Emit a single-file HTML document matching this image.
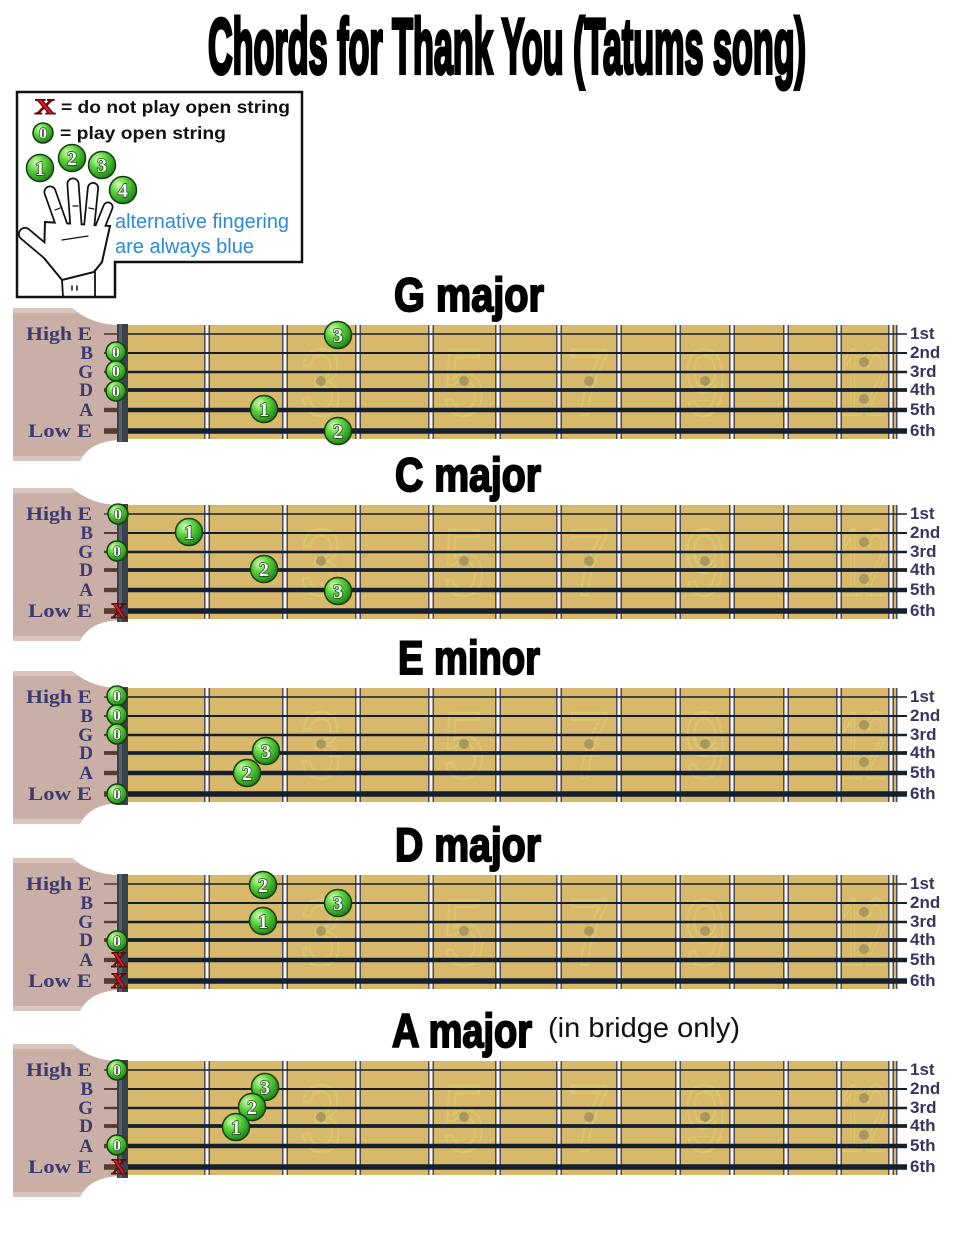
<!DOCTYPE html>
<html><head><meta charset="utf-8">
<style>
html,body{margin:0;padding:0;background:#fff;}
svg{display:block;}
.T{font-family:"Liberation Sans",sans-serif;font-weight:bold;fill:#000;stroke:#000;}
.L{font-family:"Liberation Serif",serif;font-weight:bold;font-size:19px;fill:#3d3a72;}
.R{font-family:"Liberation Sans",sans-serif;font-weight:bold;font-size:17px;fill:#3a3462;}
.nm{font-family:"Liberation Sans",sans-serif;font-size:95px;fill:none;stroke:#dfe56c;stroke-width:2.5;opacity:.3;text-anchor:middle;}
.f{fill:url(#gr);stroke:#163d10;stroke-width:1.5;}
.fn{font-family:"Liberation Serif",serif;font-weight:bold;font-size:20px;fill:#fff;stroke:#173a12;stroke-width:1.4;paint-order:stroke;text-anchor:middle;}
.on{font-family:"Liberation Serif",serif;font-weight:bold;font-size:16px;fill:#fff;stroke:#173a12;stroke-width:1.2;paint-order:stroke;text-anchor:middle;}
.x{font-family:"Liberation Serif",serif;font-weight:bold;font-size:22px;fill:#e01818;stroke:#5a0808;stroke-width:1;text-anchor:middle;}
.lg{font-family:"Liberation Sans",sans-serif;font-weight:bold;font-size:17.5px;fill:#111;}
.bl{font-family:"Liberation Sans",sans-serif;font-size:20px;fill:#2a8ad8;}
</style></head>
<body>
<svg width="960" height="1242" viewBox="0 0 960 1242" xmlns="http://www.w3.org/2000/svg">
<defs>
<radialGradient id="gr" cx="35%" cy="30%" r="70%">
<stop offset="0" stop-color="#d6ffb8"/><stop offset="0.45" stop-color="#5cd23e"/><stop offset="1" stop-color="#23881a"/>
</radialGradient>
<g id="boardA">
<path d="M13,-26 L72,-26 Q92,-9 120,-9 L120,106 Q90,107 80,127 L13,127 Z" fill="#c9afa5"/>
<path d="M13,-26 L72,-26 Q75,-23 77,-21 L13,-21 Z" fill="#dac5bd"/>
<path d="M13,122 L83,122 Q81,124 80,127 L13,127 Z" fill="#dac5bd"/>
<rect x="128" y="-9" width="769" height="114" fill="#d8b96c"/>
</g>
<g id="boardB">
<g fill="#a8975e">
<circle cx="321" cy="47" r="5"/><circle cx="464" cy="47" r="5"/><circle cx="589" cy="47" r="5"/><circle cx="705" cy="47" r="5"/><circle cx="864" cy="28" r="5"/><circle cx="864" cy="65" r="5"/>
</g>
<g fill="#4d4d58">
<rect x="204" y="-9" width="6" height="114"/><rect x="282" y="-9" width="6" height="114"/><rect x="355" y="-9" width="6" height="114"/><rect x="428" y="-9" width="6" height="114"/><rect x="495" y="-9" width="6" height="114"/><rect x="556" y="-9" width="6" height="114"/><rect x="616" y="-9" width="6" height="114"/><rect x="675" y="-9" width="6" height="114"/><rect x="729" y="-9" width="6" height="114"/><rect x="783" y="-9" width="6" height="114"/><rect x="836" y="-9" width="6" height="114"/><rect x="888" y="-9" width="6" height="114"/><rect x="896" y="-9" width="1.5" height="114"/>
</g>
<g fill="#f5f1f1">
<rect x="205.5" y="-9" width="3" height="114"/><rect x="283.5" y="-9" width="3" height="114"/><rect x="356.5" y="-9" width="3" height="114"/><rect x="429.5" y="-9" width="3" height="114"/><rect x="496.5" y="-9" width="3" height="114"/><rect x="557.5" y="-9" width="3" height="114"/><rect x="617.5" y="-9" width="3" height="114"/><rect x="676.5" y="-9" width="3" height="114"/><rect x="730.5" y="-9" width="3" height="114"/><rect x="784.5" y="-9" width="3" height="114"/><rect x="837.5" y="-9" width="3" height="114"/><rect x="889.5" y="-9" width="3" height="114"/>
</g>
<g stroke="#5a3a30">
<line x1="104" x2="118" y1="0" y2="0" stroke-width="1.6"/><line x1="104" x2="118" y1="19" y2="19" stroke-width="2"/><line x1="104" x2="118" y1="38" y2="38" stroke-width="2.4"/><line x1="104" x2="118" y1="56" y2="56" stroke-width="3.8"/><line x1="104" x2="118" y1="76" y2="76" stroke-width="4.4"/><line x1="104" x2="118" y1="97" y2="97" stroke-width="5.6"/>
</g>
<g stroke="#142030">
<line x1="118" x2="907" y1="0" y2="0" stroke-width="1.6"/><line x1="118" x2="907" y1="19" y2="19" stroke-width="2"/><line x1="118" x2="907" y1="38" y2="38" stroke-width="2.4"/><line x1="118" x2="907" y1="56" y2="56" stroke-width="3.8"/><line x1="118" x2="907" y1="76" y2="76" stroke-width="4.4"/><line x1="118" x2="907" y1="97" y2="97" stroke-width="5.6"/>
</g>
<rect x="117" y="-10" width="11" height="118" fill="#38424e"/>
<rect x="119" y="-10" width="3" height="118" fill="#56616d"/>
</g>
</defs>

<!-- Main title -->
<text class="T" x="208" y="73" font-size="78" stroke-width="4" textLength="598" lengthAdjust="spacingAndGlyphs">Chords for Thank You (Tatums song)</text>

<!-- Legend -->
<polygon points="17,92 302,92 302,262 115,262 115,297 17,297" fill="#fff" stroke="#111" stroke-width="2.5"/>
<text class="x" x="45" y="114" font-size="20" stroke-width="1.2" textLength="21" lengthAdjust="spacingAndGlyphs">X</text>
<text class="lg" x="61" y="113" textLength="229" lengthAdjust="spacingAndGlyphs">= do not play open string</text>
<g transform="translate(43,133)"><circle class="f" r="10"/><text class="on" y="5.5">0</text></g>
<text class="lg" x="60" y="139" textLength="166" lengthAdjust="spacingAndGlyphs">= play open string</text>
<!-- hand -->
<g stroke-linecap="round">
<line x1="50" y1="192" x2="62" y2="226" stroke="#111" stroke-width="13"/>
<line x1="73" y1="184" x2="76" y2="226" stroke="#111" stroke-width="13"/>
<line x1="93" y1="188" x2="89" y2="228" stroke="#111" stroke-width="12"/>
<line x1="108" y1="207" x2="98" y2="232" stroke="#111" stroke-width="11"/>
<line x1="25" y1="234" x2="50" y2="255" stroke="#111" stroke-width="14"/>
<polygon points="45,222 110,226 102,262 94,272 62,280 44,258" fill="#fff" stroke="#111" stroke-width="2"/>
<line x1="50" y1="192" x2="62" y2="226" stroke="#fff" stroke-width="9.5"/>
<line x1="73" y1="184" x2="76" y2="226" stroke="#fff" stroke-width="9.5"/>
<line x1="93" y1="188" x2="89" y2="228" stroke="#fff" stroke-width="8.5"/>
<line x1="108" y1="207" x2="98" y2="232" stroke="#fff" stroke-width="7.5"/>
<line x1="25" y1="234" x2="50" y2="255" stroke="#fff" stroke-width="10.5"/>
<polygon points="50,226 104,229 99,259 92,268 64,276 49,257" fill="#fff"/>
<line x1="62" y1="280" x2="63" y2="297" stroke="#111" stroke-width="1.8"/>
<line x1="95" y1="270" x2="95" y2="297" stroke="#111" stroke-width="1.8"/>
<line x1="72" y1="286" x2="72" y2="290" stroke="#111" stroke-width="1.5"/>
<line x1="77" y1="286" x2="77" y2="290" stroke="#111" stroke-width="1.5"/>
<line x1="55" y1="210" x2="60" y2="208" stroke="#111" stroke-width="1.2"/>
<line x1="73" y1="206" x2="78" y2="206" stroke="#111" stroke-width="1.2"/>
<line x1="89" y1="208" x2="94" y2="209" stroke="#111" stroke-width="1.2"/>
<line x1="62" y1="240" x2="88" y2="236" stroke="#111" stroke-width="1.2"/>
</g>
<g transform="translate(40,168)"><circle class="f" r="13.5"/><text class="fn" y="7">1</text></g>
<g transform="translate(72,158)"><circle class="f" r="13.5"/><text class="fn" y="7">2</text></g>
<g transform="translate(102,165)"><circle class="f" r="13.5"/><text class="fn" y="7">3</text></g>
<g transform="translate(123,190)"><circle class="f" r="13.5"/><text class="fn" y="7">4</text></g>
<text class="bl" x="115" y="228" textLength="174" lengthAdjust="spacingAndGlyphs">alternative fingering</text>
<text class="bl" x="115" y="253" textLength="139" lengthAdjust="spacingAndGlyphs">are always blue</text>

<!-- ===== G major (h=334) ===== -->
<text class="T" x="394" y="311" font-size="47" stroke-width="2" textLength="150" lengthAdjust="spacingAndGlyphs">G major</text>
<use href="#boardA" transform="translate(0,334)"/>
<text class="nm" x="321" y="415" textLength="42" lengthAdjust="spacingAndGlyphs">3</text>
<text class="nm" x="464" y="415" textLength="42" lengthAdjust="spacingAndGlyphs">5</text>
<text class="nm" x="589" y="415" textLength="42" lengthAdjust="spacingAndGlyphs">7</text>
<text class="nm" x="705" y="415" textLength="42" lengthAdjust="spacingAndGlyphs">9</text>
<text class="nm" x="864" y="415" textLength="48" lengthAdjust="spacingAndGlyphs">12</text>
<use href="#boardB" transform="translate(0,334)"/>
<text class="L" x="26" y="340" textLength="66" lengthAdjust="spacingAndGlyphs">High E</text>
<text class="L" x="93" y="359" text-anchor="end">B</text>
<text class="L" x="93" y="378" text-anchor="end">G</text>
<text class="L" x="93" y="396" text-anchor="end">D</text>
<text class="L" x="93" y="416" text-anchor="end">A</text>
<text class="L" x="28" y="437" textLength="64" lengthAdjust="spacingAndGlyphs">Low E</text>
<text class="R" x="910" y="339">1st</text>
<text class="R" x="910" y="358">2nd</text>
<text class="R" x="910" y="377">3rd</text>
<text class="R" x="910" y="395">4th</text>
<text class="R" x="910" y="415">5th</text>
<text class="R" x="910" y="436">6th</text>
<g transform="translate(116,352)"><circle class="f" r="10"/><text class="on" y="5.5">0</text></g>
<g transform="translate(116,371)"><circle class="f" r="10"/><text class="on" y="5.5">0</text></g>
<g transform="translate(116,391)"><circle class="f" r="10"/><text class="on" y="5.5">0</text></g>
<g transform="translate(338,335)"><circle class="f" r="13.5"/><text class="fn" y="7">3</text></g>
<g transform="translate(264,409)"><circle class="f" r="13.5"/><text class="fn" y="7">1</text></g>
<g transform="translate(338,431)"><circle class="f" r="13.5"/><text class="fn" y="7">2</text></g>

<!-- ===== C major (h=514) ===== -->
<text class="T" x="395" y="491" font-size="47" stroke-width="2" textLength="146" lengthAdjust="spacingAndGlyphs">C major</text>
<use href="#boardA" transform="translate(0,514)"/>
<text class="nm" x="321" y="595" textLength="42" lengthAdjust="spacingAndGlyphs">3</text>
<text class="nm" x="464" y="595" textLength="42" lengthAdjust="spacingAndGlyphs">5</text>
<text class="nm" x="589" y="595" textLength="42" lengthAdjust="spacingAndGlyphs">7</text>
<text class="nm" x="705" y="595" textLength="42" lengthAdjust="spacingAndGlyphs">9</text>
<text class="nm" x="864" y="595" textLength="48" lengthAdjust="spacingAndGlyphs">12</text>
<use href="#boardB" transform="translate(0,514)"/>
<text class="L" x="26" y="520" textLength="66" lengthAdjust="spacingAndGlyphs">High E</text>
<text class="L" x="93" y="539" text-anchor="end">B</text>
<text class="L" x="93" y="558" text-anchor="end">G</text>
<text class="L" x="93" y="576" text-anchor="end">D</text>
<text class="L" x="93" y="596" text-anchor="end">A</text>
<text class="L" x="28" y="617" textLength="64" lengthAdjust="spacingAndGlyphs">Low E</text>
<text class="R" x="910" y="519">1st</text>
<text class="R" x="910" y="538">2nd</text>
<text class="R" x="910" y="557">3rd</text>
<text class="R" x="910" y="575">4th</text>
<text class="R" x="910" y="595">5th</text>
<text class="R" x="910" y="616">6th</text>
<g transform="translate(118,514)"><circle class="f" r="10"/><text class="on" y="5.5">0</text></g>
<g transform="translate(189,532)"><circle class="f" r="13.5"/><text class="fn" y="7">1</text></g>
<g transform="translate(117,551)"><circle class="f" r="10"/><text class="on" y="5.5">0</text></g>
<g transform="translate(264,569)"><circle class="f" r="13.5"/><text class="fn" y="7">2</text></g>
<g transform="translate(338,591)"><circle class="f" r="13.5"/><text class="fn" y="7">3</text></g>
<text class="x" x="119" y="618">X</text>

<!-- ===== E minor (h=697) ===== -->
<text class="T" x="398" y="674" font-size="47" stroke-width="2" textLength="142" lengthAdjust="spacingAndGlyphs">E minor</text>
<use href="#boardA" transform="translate(0,697)"/>
<text class="nm" x="321" y="778" textLength="42" lengthAdjust="spacingAndGlyphs">3</text>
<text class="nm" x="464" y="778" textLength="42" lengthAdjust="spacingAndGlyphs">5</text>
<text class="nm" x="589" y="778" textLength="42" lengthAdjust="spacingAndGlyphs">7</text>
<text class="nm" x="705" y="778" textLength="42" lengthAdjust="spacingAndGlyphs">9</text>
<text class="nm" x="864" y="778" textLength="48" lengthAdjust="spacingAndGlyphs">12</text>
<use href="#boardB" transform="translate(0,697)"/>
<text class="L" x="26" y="703" textLength="66" lengthAdjust="spacingAndGlyphs">High E</text>
<text class="L" x="93" y="722" text-anchor="end">B</text>
<text class="L" x="93" y="741" text-anchor="end">G</text>
<text class="L" x="93" y="759" text-anchor="end">D</text>
<text class="L" x="93" y="779" text-anchor="end">A</text>
<text class="L" x="28" y="800" textLength="64" lengthAdjust="spacingAndGlyphs">Low E</text>
<text class="R" x="910" y="702">1st</text>
<text class="R" x="910" y="721">2nd</text>
<text class="R" x="910" y="740">3rd</text>
<text class="R" x="910" y="758">4th</text>
<text class="R" x="910" y="778">5th</text>
<text class="R" x="910" y="799">6th</text>
<g transform="translate(117,696)"><circle class="f" r="10"/><text class="on" y="5.5">0</text></g>
<g transform="translate(117,715)"><circle class="f" r="10"/><text class="on" y="5.5">0</text></g>
<g transform="translate(117,734)"><circle class="f" r="10"/><text class="on" y="5.5">0</text></g>
<g transform="translate(266,751)"><circle class="f" r="13.5"/><text class="fn" y="7">3</text></g>
<g transform="translate(247,773)"><circle class="f" r="13.5"/><text class="fn" y="7">2</text></g>
<g transform="translate(117,794)"><circle class="f" r="10"/><text class="on" y="5.5">0</text></g>

<!-- ===== D major (h=884) ===== -->
<text class="T" x="395" y="861" font-size="47" stroke-width="2" textLength="146" lengthAdjust="spacingAndGlyphs">D major</text>
<use href="#boardA" transform="translate(0,884)"/>
<text class="nm" x="321" y="965" textLength="42" lengthAdjust="spacingAndGlyphs">3</text>
<text class="nm" x="464" y="965" textLength="42" lengthAdjust="spacingAndGlyphs">5</text>
<text class="nm" x="589" y="965" textLength="42" lengthAdjust="spacingAndGlyphs">7</text>
<text class="nm" x="705" y="965" textLength="42" lengthAdjust="spacingAndGlyphs">9</text>
<text class="nm" x="864" y="965" textLength="48" lengthAdjust="spacingAndGlyphs">12</text>
<use href="#boardB" transform="translate(0,884)"/>
<text class="L" x="26" y="890" textLength="66" lengthAdjust="spacingAndGlyphs">High E</text>
<text class="L" x="93" y="909" text-anchor="end">B</text>
<text class="L" x="93" y="928" text-anchor="end">G</text>
<text class="L" x="93" y="946" text-anchor="end">D</text>
<text class="L" x="93" y="966" text-anchor="end">A</text>
<text class="L" x="28" y="987" textLength="64" lengthAdjust="spacingAndGlyphs">Low E</text>
<text class="R" x="910" y="889">1st</text>
<text class="R" x="910" y="908">2nd</text>
<text class="R" x="910" y="927">3rd</text>
<text class="R" x="910" y="945">4th</text>
<text class="R" x="910" y="965">5th</text>
<text class="R" x="910" y="986">6th</text>
<g transform="translate(263,885)"><circle class="f" r="13.5"/><text class="fn" y="7">2</text></g>
<g transform="translate(338,903)"><circle class="f" r="13.5"/><text class="fn" y="7">3</text></g>
<g transform="translate(263,921)"><circle class="f" r="13.5"/><text class="fn" y="7">1</text></g>
<g transform="translate(117,941)"><circle class="f" r="10"/><text class="on" y="5.5">0</text></g>
<text class="x" x="119" y="967">X</text>
<text class="x" x="119" y="988">X</text>

<!-- ===== A major (h=1070) ===== -->
<text class="T" x="392" y="1047" font-size="47" stroke-width="2" textLength="140" lengthAdjust="spacingAndGlyphs">A major</text>
<text x="548" y="1037" font-family="'Liberation Sans',sans-serif" font-size="28" fill="#111" textLength="192" lengthAdjust="spacingAndGlyphs">(in bridge only)</text>
<use href="#boardA" transform="translate(0,1070)"/>
<text class="nm" x="321" y="1151" textLength="42" lengthAdjust="spacingAndGlyphs">3</text>
<text class="nm" x="464" y="1151" textLength="42" lengthAdjust="spacingAndGlyphs">5</text>
<text class="nm" x="589" y="1151" textLength="42" lengthAdjust="spacingAndGlyphs">7</text>
<text class="nm" x="705" y="1151" textLength="42" lengthAdjust="spacingAndGlyphs">9</text>
<text class="nm" x="864" y="1151" textLength="48" lengthAdjust="spacingAndGlyphs">12</text>
<use href="#boardB" transform="translate(0,1070)"/>
<text class="L" x="26" y="1076" textLength="66" lengthAdjust="spacingAndGlyphs">High E</text>
<text class="L" x="93" y="1095" text-anchor="end">B</text>
<text class="L" x="93" y="1114" text-anchor="end">G</text>
<text class="L" x="93" y="1132" text-anchor="end">D</text>
<text class="L" x="93" y="1152" text-anchor="end">A</text>
<text class="L" x="28" y="1173" textLength="64" lengthAdjust="spacingAndGlyphs">Low E</text>
<text class="R" x="910" y="1075">1st</text>
<text class="R" x="910" y="1094">2nd</text>
<text class="R" x="910" y="1113">3rd</text>
<text class="R" x="910" y="1131">4th</text>
<text class="R" x="910" y="1151">5th</text>
<text class="R" x="910" y="1172">6th</text>
<g transform="translate(117,1070)"><circle class="f" r="10"/><text class="on" y="5.5">0</text></g>
<g transform="translate(265,1087)"><circle class="f" r="13.5"/><text class="fn" y="7">3</text></g>
<g transform="translate(252,1107)"><circle class="f" r="13.5"/><text class="fn" y="7">2</text></g>
<g transform="translate(236,1127)"><circle class="f" r="13.5"/><text class="fn" y="7">1</text></g>
<g transform="translate(117,1145)"><circle class="f" r="10"/><text class="on" y="5.5">0</text></g>
<text class="x" x="119" y="1174">X</text>
</svg>
</body></html>
